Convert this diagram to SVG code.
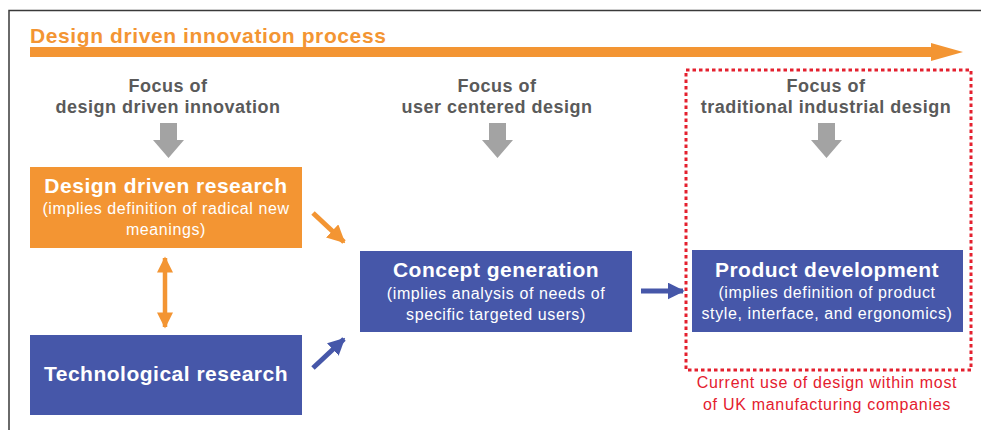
<svg xmlns="http://www.w3.org/2000/svg" width="981" height="430" viewBox="0 0 981 430">
<defs>
<style>
.t{font-family:"Liberation Sans",Arial,sans-serif;}
.title{font-family:"Liberation Sans",Arial,sans-serif;font-weight:bold;font-size:21px;fill:#fff;text-anchor:middle;letter-spacing:0.5px;}
.sub{font-family:"Liberation Sans",Arial,sans-serif;font-size:16px;fill:#fff;text-anchor:middle;letter-spacing:0.6px;}
.focus{font-family:"Liberation Sans",Arial,sans-serif;font-weight:bold;font-size:18px;fill:#5a5a5a;text-anchor:middle;letter-spacing:0.5px;}
.red{font-family:"Liberation Sans",Arial,sans-serif;font-size:16px;fill:#e4202e;text-anchor:middle;letter-spacing:0.7px;}
.orange{fill:#f39533;}
.blue{fill:#4657a9;}
.garrow{fill:#a3a3a3;}
</style>
<marker id="hO" viewBox="0 0 10 10" refX="9" refY="5" markerWidth="3.6" markerHeight="3.6" orient="auto-start-reverse" markerUnits="strokeWidth"><path d="M0,0 L10,5 L0,10 z" fill="#f39533"/></marker>
<marker id="hB" viewBox="0 0 10 10" refX="9" refY="5" markerWidth="3.4" markerHeight="3.4" orient="auto" markerUnits="strokeWidth"><path d="M0,0 L10,5 L0,10 z" fill="#4657a9"/></marker>
</defs>
<rect width="981" height="430" fill="#fff"/>
<g id="frame">
<path d="M9,430 V10.5 H981" fill="none" stroke="#3a3a3a" stroke-width="1.5"/>
</g>
<g id="process">
<text class="t" x="30" y="43" font-size="21" font-weight="bold" fill="#f39533" letter-spacing="0.6">Design driven innovation process</text>
<polygon class="orange" points="30,47 931,47 931,43 963,52 931,61 931,57 30,57"/>
</g>
<g id="focus1">
<text class="focus" x="168" y="92">Focus of</text>
<text class="focus" x="168" y="113">design driven innovation</text>
<polygon class="garrow" points="160,123 177,123 177,140 184,140 168.5,158 153,140 160,140"/>
</g>
<g id="focus2">
<text class="focus" x="497" y="92">Focus of</text>
<text class="focus" x="497" y="113">user centered design</text>
<polygon class="garrow" points="489,123 506,123 506,140 513,140 497.5,158 482,140 489,140"/>
</g>
<g id="focus3">
<text class="focus" x="826" y="92">Focus of</text>
<text class="focus" x="826" y="113">traditional industrial design</text>
<polygon class="garrow" points="818,123 835,123 835,140 842,140 826.5,158 811,140 818,140"/>
</g>
<g id="design-driven-research">
<rect class="orange" x="30" y="167" width="272" height="81"/>
<text class="title" x="166" y="193">Design driven research</text>
<text class="sub" x="166" y="214">(implies definition of radical new</text>
<text class="sub" x="166" y="235">meanings)</text>
</g>
<g id="technological-research">
<rect class="blue" x="30" y="335" width="272" height="80"/>
<text class="title" x="166" y="381">Technological research</text>
</g>
<g id="concept-generation">
<rect class="blue" x="360" y="251" width="272" height="81"/>
<text class="title" x="496" y="277">Concept generation</text>
<text class="sub" x="496" y="299">(implies analysis of needs of</text>
<text class="sub" x="496" y="320">specific targeted users)</text>
</g>
<g id="traditional-design-scope">
<rect x="686" y="70" width="285" height="300" fill="none" stroke="#e4202e" stroke-width="3" stroke-dasharray="3.5 3"/>
<text class="red" x="827" y="388">Current use of design within most</text>
<text class="red" x="827" y="410">of UK manufacturing companies</text>
</g>
<g id="product-development">
<rect class="blue" x="692" y="250" width="271" height="82"/>
<text class="title" x="827" y="277">Product development</text>
<text class="sub" x="827" y="298">(implies definition of product</text>
<text class="sub" x="827" y="319">style, interface, and ergonomics)</text>
</g>
<g id="connectors" fill="none" stroke-width="5">
<line x1="313" y1="213" x2="344" y2="242" stroke="#f39533" marker-end="url(#hO)"/>
<line x1="313" y1="368" x2="344" y2="339" stroke="#4657a9" marker-end="url(#hB)"/>
<line x1="165" y1="258" x2="165" y2="327" stroke="#f39533" stroke-width="4.5" marker-start="url(#hO)" marker-end="url(#hO)"/>
<line x1="641" y1="291" x2="683" y2="291" stroke="#4657a9" marker-end="url(#hB)"/>
</g>
</svg>
